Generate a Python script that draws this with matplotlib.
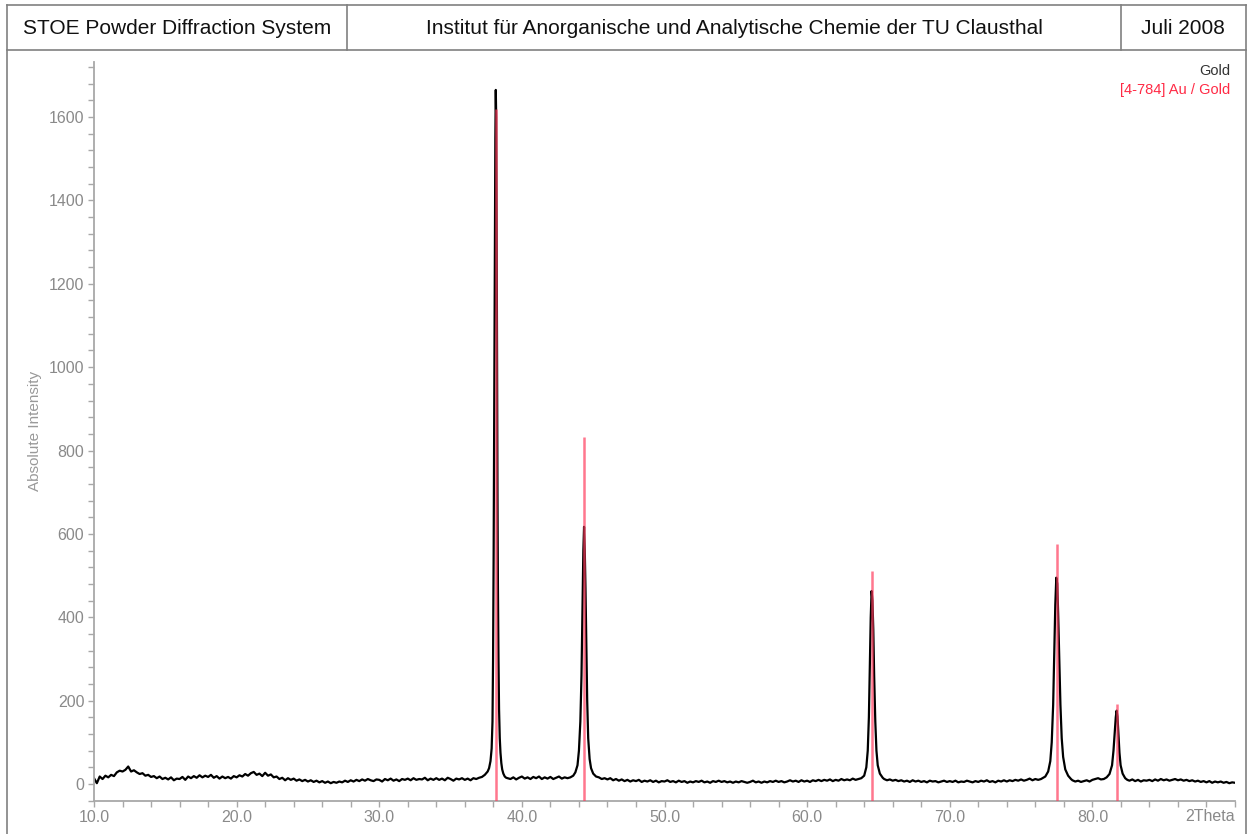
import numpy as np
import matplotlib.pyplot as plt
from matplotlib.lines import Line2D
from matplotlib.ticker import MultipleLocator, FixedLocator

plt.rcParams['font.family'] = ['Liberation Sans', 'DejaVu Sans']

bg_start = [10.0, 39.0, 45.4, 65.4, 78.6, 82.6]
bg_10_37 = [14, 2, 18, 12, 20, 16, 22, 19, 28, 32, 30, 34, 42, 30, 33,
            28, 24, 26, 20, 22, 17, 19, 14, 18, 12, 15, 11, 16, 9, 13,
            12, 17, 10, 18, 14, 19, 15, 21, 16, 20, 17, 22, 15, 19, 13,
            18, 14, 17, 13, 19, 16, 21, 18, 24, 20, 26, 29, 22, 25, 19,
            27, 20, 23, 16, 18, 12, 15, 9, 14, 10, 13, 8, 11, 7, 10,
            6, 9, 5, 8, 4, 7, 3, 6, 2, 5, 3, 6, 4, 8, 5,
            9, 6, 10, 7, 11, 8, 12, 9, 7, 11, 10, 6, 12, 9, 13,
            8, 11, 7, 12, 10, 13, 9, 14, 10, 12, 11, 15, 9, 13, 10,
            14, 10, 13, 9, 15, 12, 8, 13, 11, 14, 10, 13, 9, 14, 12,
            15, 17]
bg_39_43 = [14, 12, 16, 11, 15, 18, 13, 16, 12, 17, 14, 18, 12, 16, 13,
            17, 12, 15, 18, 13, 16, 14]
bg_45_63 = [16, 12, 14, 11, 14, 9, 12, 8, 11, 7, 10, 6, 9, 7, 10, 5, 8, 6,
            9, 5, 8, 4, 7, 6, 9, 5, 7, 4, 8, 5, 7, 3, 6, 4, 7, 5, 8, 4,
            6, 3, 7, 5, 8, 5, 7, 4, 6, 3, 6, 4, 7, 5, 3, 5, 8, 4, 6, 3,
            6, 4, 7, 5, 8, 5, 7, 4, 6, 9, 6, 8, 5, 9, 6, 8, 5, 9, 7, 10,
            7, 10, 8, 11, 7, 10, 8, 12, 9, 11, 9, 13, 10, 12]
bg_65_76 = [12, 9, 11, 8, 10, 7, 9, 6, 8, 5, 9, 6, 8, 5, 7, 4, 8, 6,
            7, 4, 6, 8, 5, 7, 5, 8, 4, 6, 5, 8, 6, 4, 7, 5, 8, 6, 9, 5,
            7, 4, 8, 6, 9, 6, 9, 7, 10, 8, 11, 8, 10, 13, 9, 12, 10]
bg_78_80 = [9, 6, 8, 5, 7, 9, 6, 10, 12, 14, 11]
bg_82_90 = [8, 11, 7, 10, 6, 9, 8, 10, 7, 11, 8, 12, 9, 11, 8, 10, 12,
            9, 11, 8, 10, 7, 9, 6, 8, 5, 7, 4, 7, 3, 6, 4, 6, 3, 5, 2, 4, 3]
bg_segments = [bg_10_37, bg_39_43, bg_45_63, bg_65_76, bg_78_80, bg_82_90]

# peak profiles, sampled more finely
p111_x = [37.40, 37.50, 37.60, 37.70, 37.80, 37.88, 37.94, 37.98, 38.02, 38.06,
          38.10, 38.14, 38.17, 38.20, 38.23, 38.26, 38.29, 38.32, 38.36, 38.40,
          38.45, 38.50, 38.56, 38.62, 38.70, 38.80, 38.90]
p111_y = [22, 26, 30, 38, 55, 85, 150, 300, 550, 900,
          1250, 1550, 1665, 1600, 1350, 1000, 700, 480, 300, 180,
          110, 75, 50, 35, 25, 18, 15]
p200_x = [43.40, 43.60, 43.75, 43.90, 44.00, 44.10, 44.18, 44.25, 44.31, 44.36,
          44.41, 44.46, 44.52, 44.58, 44.65, 44.75, 44.85, 45.00, 45.20]
p200_y = [16, 20, 28, 45, 80, 150, 260, 420, 560, 617,
          560, 470, 330, 200, 110, 60, 38, 25, 18]
p220_x = [63.80, 64.00, 64.15, 64.25, 64.33, 64.40, 64.46, 64.52, 64.58, 64.64,
          64.70, 64.78, 64.86, 64.95, 65.10, 65.30]
p220_y = [14, 20, 40, 80, 160, 290, 400, 463, 440, 370,
          260, 150, 80, 45, 25, 15]
p311_x = [76.40, 76.70, 76.90, 77.05, 77.15, 77.25, 77.33, 77.40, 77.47, 77.54,
          77.60, 77.68, 77.76, 77.85, 77.95, 78.10, 78.30, 78.50]
p311_y = [12, 18, 30, 55, 100, 190, 320, 430, 495, 480,
          410, 300, 190, 110, 65, 35, 20, 12]
p222_x = [80.80, 81.00, 81.20, 81.38, 81.48, 81.57, 81.64, 81.70, 81.76, 81.83,
          81.90, 81.98, 82.12, 82.30, 82.45]
p222_y = [12, 16, 24, 45, 80, 125, 160, 176, 162, 120,
          75, 45, 25, 14, 10]
peaks = [(p111_x, p111_y), (p200_x, p200_y), (p220_x, p220_y),
         (p311_x, p311_y), (p222_x, p222_y)]

# reference card [4-784] Au / Gold
ref_pos = [38.18, 44.39, 64.58, 77.55, 81.72]
ref_int = [1620, 832, 512, 576, 193]

two_theta = []
counts = []
for start, vals in zip(bg_start, bg_segments):
    two_theta += [round(start + 0.2 * i, 2) for i in range(len(vals))]
    counts += vals
for px, py in peaks:
    two_theta += px
    counts += py
two_theta = np.array(two_theta)
counts = np.array(counts)
order = np.argsort(two_theta)
two_theta = two_theta[order]
counts = counts[order]

fig = plt.figure(figsize=(12.48, 8.34), dpi=100)
W, H = 1248, 834
ax = fig.add_axes([94 / W, 1 - 800.7 / H, (1235 - 94) / W, (800.7 - 62) / H])

ax.plot(two_theta, counts, color='black', lw=1.6, zorder=2)
ymin, ymax = -40, 1732
ax.vlines(ref_pos, ymin, ref_int, color='#ff3d5e', lw=1.8, alpha=0.7, zorder=3)
ax.set_xlim(10, 90)
ax.set_ylim(ymin, ymax)

for s in ['top', 'right']:
    ax.spines[s].set_visible(False)
for s in ['left', 'bottom']:
    ax.spines[s].set_color('#a8a8a8')
    ax.spines[s].set_linewidth(1.3)

ax.xaxis.set_major_locator(FixedLocator(np.arange(10, 81, 10)))
ax.xaxis.set_minor_locator(MultipleLocator(2))
ax.set_xticklabels([f'{v:.1f}' for v in np.arange(10, 81, 10)])
ax.yaxis.set_major_locator(FixedLocator(np.arange(0, 1601, 200)))
ax.yaxis.set_minor_locator(MultipleLocator(40))
ax.tick_params(which='both', direction='out', color='#a8a8a8', width=1.0,
               labelcolor='#8a8a8a', labelsize=11.5)
ax.tick_params(which='major', length=4, pad=3)
ax.tick_params(which='minor', length=4)

ax.annotate('2Theta', xy=(1, 0), xycoords='axes fraction', xytext=(0, -6),
            textcoords='offset points', ha='right', va='top',
            color='#8a8a8a', fontsize=11.5)
ax.set_ylabel('Absolute Intensity', color='#999999', fontsize=11, labelpad=5)

fig.text(1230 / W, 1 - 71 / H, 'Gold', ha='right', va='center', color='#333333', fontsize=10.5)
fig.text(1230 / W, 1 - 90 / H, '[4-784] Au / Gold', ha='right', va='center',
         color='#ff2a45', fontsize=10.5)

# header frame
fc = '#808080'
def fline(x0, y0, x1, y1):
    fig.add_artist(Line2D([x0 / W, x1 / W], [1 - y0 / H, 1 - y1 / H],
                          transform=fig.transFigure, color=fc, lw=1.2))
fline(7, 5, 1246, 5)
fline(7, 50, 1246, 50)
fline(7, 5, 7, 834)
fline(1246, 5, 1246, 834)
fline(347, 5, 347, 50)
fline(1121, 5, 1121, 50)

hy = 1 - 28 / H
fig.text(177 / W, hy, 'STOE Powder Diffraction System', ha='center', va='center',
         fontsize=15, color='#111111')
fig.text(734 / W, hy, 'Institut für Anorganische und Analytische Chemie der TU Clausthal',
         ha='center', va='center', fontsize=15, color='#111111')
fig.text(1183 / W, hy, 'Juli 2008', ha='center', va='center', fontsize=15, color='#111111')

fig.savefig('out.png', dpi=100)
